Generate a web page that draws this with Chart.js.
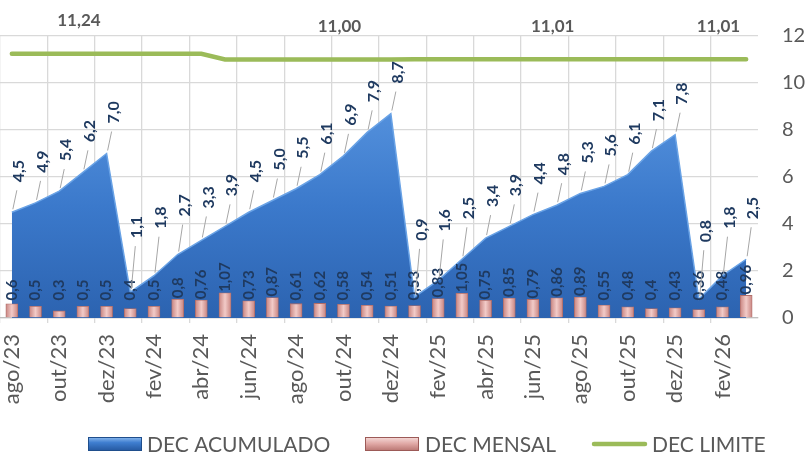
<!DOCTYPE html>
<html>
<head>
<meta charset="utf-8">
<script src="https://cdn.jsdelivr.net/npm/chart.js@4.4.1/dist/chart.umd.min.js"></script>
<style>
  html, body { margin: 0; padding: 0; background: #fff; }
  canvas { display: block; }
</style>
</head>
<body>
<canvas id="decChart" width="809" height="455"></canvas>
<script>
const meses = [
  "ago/23", "set/23", "out/23", "nov/23", "dez/23",
  "jan/24", "fev/24", "mar/24", "abr/24", "mai/24", "jun/24", "jul/24",
  "ago/24", "set/24", "out/24", "nov/24", "dez/24",
  "jan/25", "fev/25", "mar/25", "abr/25", "mai/25", "jun/25", "jul/25",
  "ago/25", "set/25", "out/25", "nov/25", "dez/25",
  "jan/26", "fev/26", "mar/26",
];

const decAcumulado = [
  4.5, 4.9, 5.4, 6.2, 7.0,
  1.1, 1.8, 2.7, 3.3, 3.9, 4.5, 5.0, 5.5, 6.1, 6.9, 7.9, 8.7,
  0.9, 1.6, 2.5, 3.4, 3.9, 4.4, 4.8, 5.3, 5.6, 6.1, 7.1, 7.8,
  0.8, 1.8, 2.5,
];

const decMensal = [
  0.6, 0.5, 0.3, 0.5, 0.5,
  0.4, 0.5, 0.8, 0.76, 1.07, 0.73, 0.87, 0.61, 0.62, 0.58, 0.54, 0.51,
  0.53, 0.83, 1.05, 0.75, 0.85, 0.79, 0.86, 0.89, 0.55, 0.48, 0.4, 0.43,
  0.36, 0.48, 0.96,
];

const decLimite = [
  11.24, 11.24, 11.24, 11.24, 11.24, 11.24, 11.24, 11.24, 11.24,
  11.0, 11.0, 11.0, 11.0, 11.0, 11.0, 11.0, 11.0,
  11.01, 11.01, 11.01, 11.01, 11.01, 11.01, 11.01, 11.01, 11.01, 11.01, 11.01, 11.01,
  11.01, 11.01, 11.01,
];

const yTicks = [0, 2, 4, 6, 8, 10, 12];

// only a few points of the limit line carry a label
const limiteComRotulo = [3, 14, 23, 30];

const virgula = (v, casas) =>
  (casas === undefined ? String(v) : v.toFixed(casas)).replace(".", ",");

const FONTE = "Lato, 'Liberation Sans', sans-serif";
const AZUL_ROTULO = "#1f3a60";

// area gradient (blue)
const areaFill = (c) => {
  const area = c.chart.chartArea;
  if (!area) return "#3f7fcf";
  const g = c.chart.ctx.createLinearGradient(0, area.top + 60, 0, area.bottom);
  g.addColorStop(0, "#5794df");
  g.addColorStop(0.5, "#3b79cb");
  g.addColorStop(1, "#2c63b0");
  return g;
};

// bar gradient (pink, lighter in the middle)
const barFill = (c) => {
  const ch = c.chart;
  if (!ch.chartArea || c.dataIndex === undefined) return "#d99894";
  const x = ch.scales.x.getPixelForValue(c.dataIndex);
  const g = ch.ctx.createLinearGradient(x - 6, 0, x + 6, 0);
  g.addColorStop(0, "#c98581");
  g.addColorStop(0.5, "#f2cbc8");
  g.addColorStop(1, "#c98581");
  return g;
};

const rotulos = {
  id: "rotulos",
  afterDatasetsDraw(chart) {
    const ctx = chart.ctx;
    const y = chart.scales.y;
    const barMeta = chart.getDatasetMeta(0);
    const accMeta = chart.getDatasetMeta(1);
    const limMeta = chart.getDatasetMeta(2);

    const vertical = (txt, x, yBottom, size) => {
      ctx.save();
      ctx.translate(x, yBottom);
      ctx.rotate(-Math.PI / 2);
      ctx.font = "bold " + size + "px " + FONTE;
      ctx.fillStyle = AZUL_ROTULO;
      ctx.textAlign = "left";
      ctx.textBaseline = "middle";
      ctx.fillText(txt, 0, 0);
      ctx.restore();
    };

    // monthly labels
    barMeta.data.forEach((bar, i) => {
      const yb = Math.min(bar.y - 1, y.getPixelForValue(0.75));
      vertical(virgula(decMensal[i]), bar.x, yb, 15);
    });

    // accumulated labels with leader lines
    accMeta.data.forEach((pt, i) => {
      const v = decAcumulado[i];
      const lift = 30 + Math.max(0, 3.5 - v) * 10;
      const yb = pt.y - lift;
      const x0 = pt.x + 1, y0 = pt.y - 3;
      const x1 = pt.x + 5, y1 = yb + 8;
      if (y0 - y1 > 6) {
        ctx.save();
        ctx.strokeStyle = "#a6a6a6";
        ctx.lineWidth = 1;
        ctx.beginPath();
        ctx.moveTo(x0, y0);
        ctx.lineTo(x1, y1);
        ctx.stroke();
        ctx.restore();
      }
      vertical(virgula(v, 1), pt.x + 7, yb, 16);
    });

    // limit labels
    ctx.save();
    ctx.font = "bold 17px " + FONTE;
    ctx.fillStyle = "#595959";
    ctx.textAlign = "center";
    ctx.textBaseline = "middle";
    limiteComRotulo.forEach((i) => {
      const pt = limMeta.data[i];
      ctx.fillText(virgula(decLimite[i], 2), pt.x - 4, pt.y - 33);
    });
    ctx.restore();
  },
};

const legenda = {
  id: "legenda",
  afterDraw(chart) {
    const ctx = chart.ctx;
    const yc = 444;
    ctx.save();
    ctx.font = "21px " + FONTE;
    ctx.fillStyle = "#595959";
    ctx.textBaseline = "middle";
    ctx.textAlign = "left";

    // DEC ACUMULADO
    let g = ctx.createLinearGradient(0, yc - 7, 0, yc + 7);
    g.addColorStop(0, "#8dbbef");
    g.addColorStop(0.4, "#3f7ed0");
    g.addColorStop(1, "#24579e");
    ctx.fillStyle = g;
    ctx.fillRect(88, yc - 7, 54, 14);
    ctx.strokeStyle = "#1f4e8c";
    ctx.lineWidth = 1;
    ctx.strokeRect(88.5, yc - 6.5, 53, 13);
    ctx.fillStyle = "#595959";
    ctx.fillText(chart.data.datasets[1].label, 147, yc + 1);

    // DEC MENSAL
    g = ctx.createLinearGradient(0, yc - 7, 0, yc + 7);
    g.addColorStop(0, "#f6dcda");
    g.addColorStop(0.5, "#dfa6a3");
    g.addColorStop(1, "#b77470");
    ctx.fillStyle = g;
    ctx.fillRect(365, yc - 7, 54, 14);
    ctx.strokeStyle = "#9c5a57";
    ctx.strokeRect(365.5, yc - 6.5, 53, 13);
    ctx.fillStyle = "#595959";
    ctx.fillText(chart.data.datasets[0].label, 425, yc + 1);

    // DEC LIMITE
    ctx.strokeStyle = "#9bbb59";
    ctx.lineWidth = 4.5;
    ctx.lineCap = "round";
    ctx.beginPath();
    ctx.moveTo(594, yc);
    ctx.lineTo(645, yc);
    ctx.stroke();
    ctx.fillText(chart.data.datasets[2].label, 652, yc + 1);
    ctx.restore();
  },
};

new Chart(document.getElementById("decChart"), {
  data: {
    labels: meses,
    datasets: [
      {
        type: "bar",
        label: "DEC MENSAL",
        data: decMensal,
        backgroundColor: barFill,
        borderColor: "#b06d69",
        borderWidth: 0.8,
        barThickness: 12,
        order: 0,
      },
      {
        type: "line",
        label: "DEC ACUMULADO",
        data: decAcumulado,
        fill: "origin",
        backgroundColor: areaFill,
        borderColor: "#6aa3e6",
        borderWidth: 1.5,
        pointRadius: 0,
        tension: 0,
        order: 2,
      },
      {
        type: "line",
        label: "DEC LIMITE",
        data: decLimite,
        fill: false,
        borderColor: "#9bbb59",
        borderWidth: 4.5,
        borderCapStyle: "round",
        pointRadius: 0,
        tension: 0,
        order: 1,
      },
    ],
  },
  options: {
    responsive: false,
    animation: false,
    devicePixelRatio: 1,
    layout: { padding: { top: 35, left: 0, right: 0, bottom: 37 } },
    plugins: {
      legend: { display: false },
      tooltip: { enabled: false },
    },
    scales: {
      x: {
        offset: true,
        grid: {
          offset: true,
          color: (c) => (c.index % 2 === 0 ? "#d9d9d9" : "rgba(0,0,0,0)"),
          lineWidth: 1.3,
          drawTicks: true,
          tickLength: 5,
        },
        border: { color: "#bfbfbf", width: 1.3 },
        ticks: {
          autoSkip: false,
          maxRotation: 90,
          minRotation: 90,
          color: "#595959",
          font: { family: FONTE, size: 22 },
          padding: 11,
          callback: function (v, i) {
            return i % 2 === 0 ? this.getLabelForValue(v) : "";
          },
        },
        afterFit: (s) => {
          s.height = 100;
        },
      },
      y: {
        position: "right",
        min: 0,
        max: 12,
        afterBuildTicks: (s) => {
          s.ticks = yTicks.map((v) => ({ value: v }));
        },
        ticks: {
          color: "#595959",
          font: { family: FONTE, size: 20 },
          padding: 24,
          crossAlign: "near",
        },
        grid: { color: "#d9d9d9", lineWidth: 1.3, drawTicks: false },
        border: { display: false },
        afterFit: (s) => {
          s.width = 51;
        },
      },
    },
  },
  plugins: [rotulos, legenda],
});
</script>
</body>
</html>
